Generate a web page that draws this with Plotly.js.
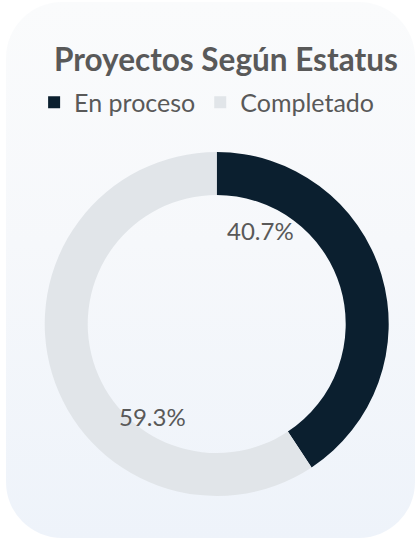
<!DOCTYPE html>
<html>
<head>
<meta charset="utf-8">
<script src="https://cdn.plot.ly/plotly-3.0.1.min.js"></script>
<style>
  html, body { margin: 0; padding: 0; background: #ffffff; }
  #wrap { position: relative; width: 416px; height: 540px; }
  #card { position: absolute; left: 6px; top: 2px; width: 409px; height: 536px;
          border-radius: 56px; background: linear-gradient(to bottom, #fafbfc 0%, #f6f8fb 45%, #eef3fa 100%); }
  #chart { position: absolute; left: 0; top: 0; width: 416px; height: 540px; }
</style>
</head>
<body>
<div id="wrap">
  <div id="card"></div>
  <div id="chart"></div>
</div>
<script>
const categories = ["En proceso", "Completado"];
const values = [40.7, 59.3];
const colors = ["#0b1f2f", "#e1e5e9"];
const chartTitle = "Proyectos Según Estatus";

const total = values.reduce((a, b) => a + b, 0);
const pctText = values.map(v => (v / total * 100).toFixed(1) + "%");
const labelPos = [[0.626, 0.574], [0.367, 0.228]];

const font = "Lato, 'Open Sans', sans-serif";
const textColor = "#595959";

const data = [{
  type: "pie",
  labels: categories,
  values: values,
  hole: 0.75,
  sort: false,
  direction: "clockwise",
  rotation: 0,
  textinfo: "none",
  hoverinfo: "label+percent",
  marker: { colors: colors, line: { width: 0 } },
  domain: { x: [0.1075, 0.9344], y: [0.0815, 0.7185] }
}];

const layout = {
  width: 416, height: 540,
  margin: { l: 0, r: 0, t: 0, b: 0 },
  paper_bgcolor: "rgba(0,0,0,0)",
  plot_bgcolor: "rgba(0,0,0,0)",
  font: { family: font, color: textColor },
  title: { text: "<b>" + chartTitle + "</b>", x: 0.543, xanchor: "center", y: 0.889, yanchor: "middle",
           font: { family: font, size: 31.5, color: textColor } },
  showlegend: true,
  legend: { orientation: "h", x: 0.082, xanchor: "left", y: 0.81, yanchor: "middle",
            font: { family: font, size: 25, color: textColor }, traceorder: "normal",
            bgcolor: "rgba(0,0,0,0)" },
  annotations: pctText.map((t, i) => ({
    text: t, x: labelPos[i][0], y: labelPos[i][1], xref: "paper", yref: "paper",
    showarrow: false, xanchor: "center", yanchor: "middle",
    font: { family: font, size: 24, color: textColor }
  }))
};

Plotly.newPlot("chart", data, layout, { displayModeBar: false, staticPlot: true });
</script>
</body>
</html>
